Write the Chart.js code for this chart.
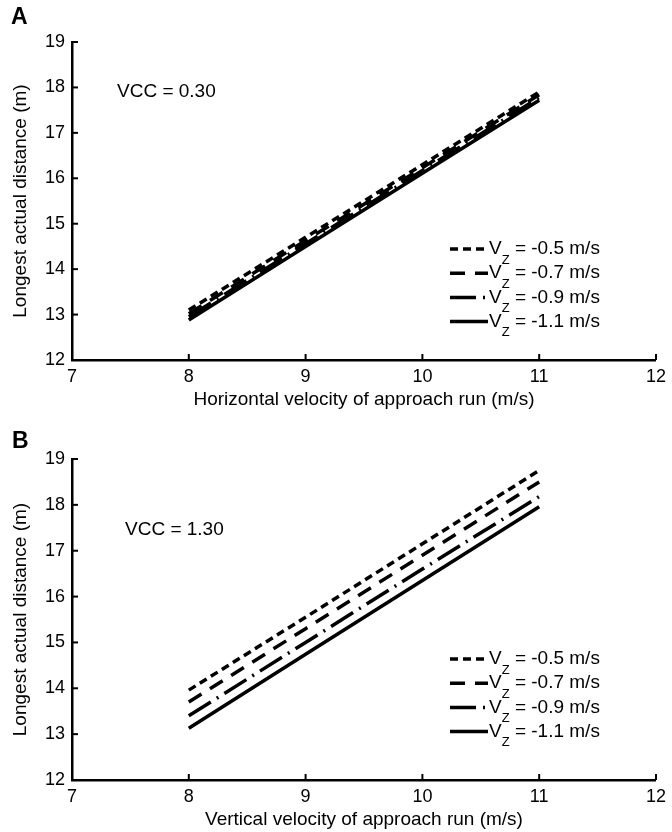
<!DOCTYPE html>
<html>
<head>
<meta charset="utf-8">
<script src="https://cdn.jsdelivr.net/npm/chart.js@4"></script>
<style>
  html, body { margin: 0; padding: 0; background: #fff; }
  .panel { position: absolute; left: 0; width: 672px; height: 416px; }
</style>
</head>
<body>
<div class="panel" style="top:0"><canvas id="chartA" width="672" height="416"></canvas></div>
<div class="panel" style="top:416px"><canvas id="chartB" width="672" height="416"></canvas></div>
<script>
const FONT = "'Liberation Sans', Arial, sans-serif";

// approach run speed (m/s)
const speeds = [8, 9, 10, 11];
const vzValues = [-0.5, -0.7, -0.9, -1.1];
const yTicks = [12, 13, 14, 15, 16, 17, 18, 19];
const xTicks = [7, 8, 9, 10, 11, 12];

// panel A, VCC = 0.30
const distA_05 = [13.10, 14.70, 16.30, 17.90];
const distA_07 = [13.02, 14.63, 16.23, 17.84];
const distA_09 = [12.95, 14.56, 16.17, 17.78];
const distA_11 = [12.88, 14.50, 16.11, 17.72];

// panel B, VCC = 1.30
const distB_05 = [13.96, 15.55, 17.15, 18.75];
const distB_07 = [13.70, 15.30, 16.90, 18.50];
const distB_09 = [13.40, 15.00, 16.60, 18.18];
const distB_11 = [13.13, 14.74, 16.35, 17.96];

const dashes = [[8, 5], [15, 10], [26, 7, 2, 7], []];

function makeDatasets(series) {
  return series.map((vals, i) => ({
    label: "Vz = " + vzValues[i] + " m/s",
    data: speeds.map((s, j) => ({ x: s, y: vals[j] })),
    borderColor: "#000",
    borderWidth: 3.5,
    borderDash: dashes[i],
    borderCapStyle: "butt",
    pointRadius: 0,
    fill: false,
    tension: 0,
  }));
}

// letters, VCC note, inward ticks and the legend with the subscript
const decor = {
  id: "decor",
  afterDraw(chart, args, opts) {
    const ctx = chart.ctx;
    const xs = chart.scales.x;
    const ys = chart.scales.y;
    ctx.save();
    ctx.strokeStyle = "#000";
    ctx.lineWidth = 2;
    xTicks.forEach((v) => {
      const px = xs.getPixelForValue(v);
      ctx.beginPath();
      ctx.moveTo(px, ys.bottom);
      ctx.lineTo(px, ys.bottom - 6);
      ctx.stroke();
    });
    yTicks.forEach((v) => {
      const py = ys.getPixelForValue(v);
      ctx.beginPath();
      ctx.moveTo(xs.left, py);
      ctx.lineTo(xs.left + 6, py);
      ctx.stroke();
    });

    ctx.fillStyle = "#000";
    ctx.textBaseline = "middle";
    ctx.textAlign = "left";
    ctx.font = "bold 23px " + FONT;
    ctx.fillText(opts.letter, opts.letterX, opts.letterY);
    ctx.font = "19px " + FONT;
    ctx.fillText(opts.note, opts.noteX, opts.noteY);

    chart.data.datasets.forEach((ds, i) => {
      const y = opts.legendY + i * 24.2;
      ctx.lineWidth = 3.5;
      ctx.setLineDash(ds.borderDash);
      ctx.beginPath();
      ctx.moveTo(opts.legendX, y);
      ctx.lineTo(opts.legendX + 38, y);
      ctx.stroke();
      ctx.setLineDash([]);
      let tx = opts.legendX + 39;
      ctx.font = "19px " + FONT;
      ctx.fillText("V", tx, y);
      tx += ctx.measureText("V").width;
      ctx.font = "13px " + FONT;
      ctx.fillText("Z", tx, y + 11);
      tx += ctx.measureText("Z").width;
      ctx.font = "19px " + FONT;
      ctx.fillText(" = " + vzValues[i] + " m/s", tx, y);
    });
    ctx.restore();
  },
};

function makeChart(id, series, xTitle, cfg) {
  return new Chart(document.getElementById(id), {
    type: "line",
    data: { datasets: makeDatasets(series) },
    plugins: [decor],
    options: {
      responsive: false,
      animation: false,
      layout: { padding: { left: 0, right: 11, top: cfg.top, bottom: 0 } },
      plugins: {
        legend: { display: false },
        tooltip: { enabled: false },
        decor: cfg.decor,
      },
      scales: {
        x: {
          type: "linear",
          min: 7,
          max: 12,
          afterFit: (s) => { s.height = cfg.xHeight; },
          afterBuildTicks: (s) => { s.ticks = xTicks.map((v) => ({ value: v })); },
          ticks: { color: "#000", font: { family: FONT, size: 18 }, padding: 6 },
          grid: { drawOnChartArea: false, drawTicks: false },
          border: { color: "#000", width: 2.5 },
          title: {
            display: true,
            text: xTitle,
            color: "#000",
            font: { family: FONT, size: 19 },
            padding: { top: 0, bottom: cfg.xTitlePad },
          },
        },
        y: {
          min: 12,
          max: 19,
          afterFit: (s) => { s.width = 72; },
          afterBuildTicks: (s) => { s.ticks = yTicks.map((v) => ({ value: v })); },
          ticks: { color: "#000", font: { family: FONT, size: 18 }, padding: 7 },
          grid: { drawOnChartArea: false, drawTicks: false },
          border: { color: "#000", width: 2.5 },
          title: {
            display: true,
            text: "Longest actual distance (m)",
            color: "#000",
            font: { family: FONT, size: 19 },
            padding: { top: 9, bottom: 0 },
          },
        },
      },
    },
  });
}

makeChart("chartA", [distA_05, distA_07, distA_09, distA_11],
  "Horizontal velocity of approach run (m/s)", {
    top: 42, xHeight: 56, xTitlePad: 4.5,
    decor: { letter: "A", letterX: 11, letterY: 18, note: "VCC = 0.30", noteX: 117, noteY: 92,
             legendX: 450, legendY: 249 },
  });

makeChart("chartB", [distB_05, distB_07, distB_09, distB_11],
  "Vertical velocity of approach run (m/s)", {
    top: 43, xHeight: 52, xTitlePad: 0.5,
    decor: { letter: "B", letterX: 12, letterY: 26, note: "VCC = 1.30", noteX: 125, noteY: 114,
             legendX: 450, legendY: 243 },
  });
</script>
</body>
</html>
